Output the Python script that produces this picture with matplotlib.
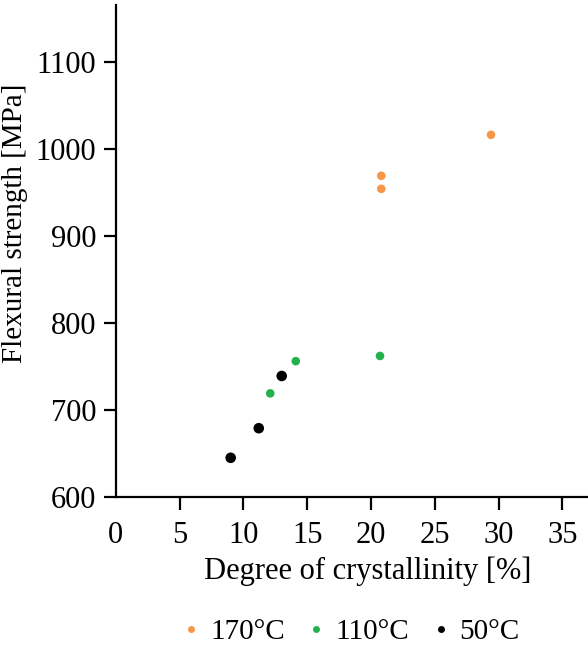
import matplotlib
matplotlib.use("Agg")
import matplotlib.pyplot as plt
from matplotlib.lines import Line2D

plt.rcParams['font.family'] = ['Liberation Serif', 'DejaVu Serif']

series = ["170°C", "110°C", "50°C"]
x170 = [29.4, 20.8, 20.8]
y170 = [1016, 969, 954]
x110 = [20.7, 14.1, 12.1]
y110 = [762, 756, 719]
x50 = [13.0, 11.2, 9.0]
y50 = [739, 679, 645]
xticks = [0, 5, 10, 15, 20, 25, 30, 35]
yticks = [600, 700, 800, 900, 1000, 1100]
colors = ["#F79646", "#22B14C", "#000000"]

fig = plt.figure(figsize=(5.88, 6.46), dpi=100)
ax = fig.add_axes([0.197, 0.2307, 0.803, 0.7613])

ax.scatter(x170, y170, s=38, color=colors[0], edgecolors='none', zorder=3)
ax.scatter(x110, y110, s=38, color=colors[1], edgecolors='none', zorder=3)
ax.scatter(x50, y50, s=58, color=colors[2], edgecolors='none', zorder=3)

ax.set_xlim(0, 37)
ax.set_ylim(600, 1165)
ax.set_xticks(xticks)
ax.set_yticks(yticks)
ax.spines['top'].set_visible(False)
ax.spines['right'].set_visible(False)
for s in ['left', 'bottom']:
    ax.spines[s].set_linewidth(1.6)
ax.tick_params(axis='both', direction='out', length=9, width=1.6, labelsize=22)
ax.tick_params(axis='y', pad=5)
ax.tick_params(axis='x', pad=8)
ax.xaxis.get_major_ticks()[0].tick1line.set_visible(False)

ax.set_xlabel("Degree of crystallinity [%]", fontsize=22)
ax.set_ylabel("Flexural strength [MPa]", fontsize=21)
ax.xaxis.set_label_coords(0.534, -0.122)
ax.yaxis.set_label_coords(-0.187, 0.557)

handles = [Line2D([0], [0], marker='o', linestyle='none', markersize=5,
                  markerfacecolor=c, markeredgecolor='none') for c in colors]
fig.legend(handles, series, loc='center', bbox_to_anchor=(0.597, 0.022), ncol=3,
           frameon=False, fontsize=21, handletextpad=0.35, columnspacing=0.78,
           handlelength=0.6)

fig.savefig("out.png", dpi=100)
